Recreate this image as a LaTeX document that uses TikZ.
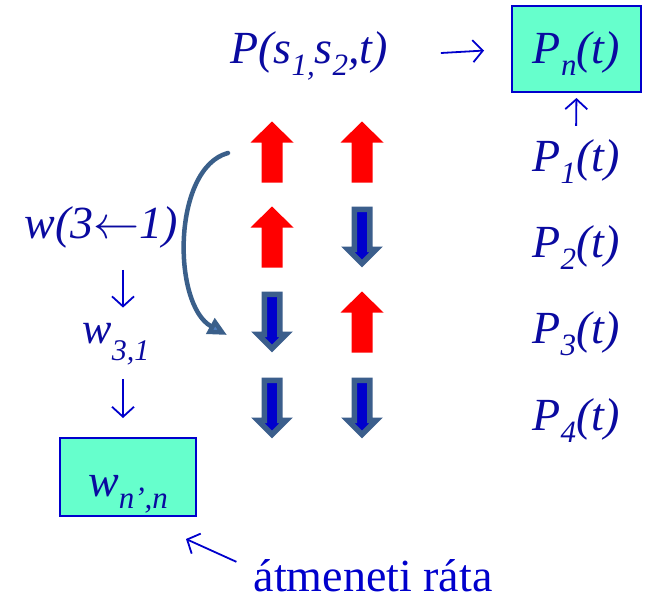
\RequirePackage{fix-cm}
\documentclass[tikz,border=0pt]{standalone}
\usepackage{fontspec}
\setmainfont{Liberation Serif}
\usetikzlibrary{arrows.meta,positioning}
\definecolor{ink}{HTML}{0A0AA0}
\definecolor{bright}{HTML}{0000CC}
\definecolor{boxfill}{HTML}{66FFCC}
\definecolor{spinfill}{HTML}{0000CC}
\definecolor{spinedge}{HTML}{3B5E8C}
\definecolor{flipcol}{HTML}{3A5F8A}
\definecolor{flipfill}{HTML}{4F7FBF}
\newcommand{\idx}[1]{\raisebox{-0.28em}{\fontsize{31}{31}\selectfont #1}}
\newcommand{\spinup}[2]{\fill[upcol] (#1,#2) ++(0,-30.5) -- ++(21.5,21) -- ++(-11,0) -- ++(0,40) -- ++(-21,0) -- ++(0,-40) -- ++(-11,0) -- cycle;}
\newcommand{\spindown}[2]{\filldraw[downcol] (#1,#2) ++(-7.75,-27.75) -- ++(15.5,0) -- ++(0,40) -- ++(6.5,0) -- ++(-14.25,14.25) -- ++(-14.25,-14.25) -- ++(6.5,0) -- cycle;}

\begin{document}
\begin{tikzpicture}[x=1pt,y=-1pt,
  every node/.style={font=\fontsize{46}{50}\selectfont\itshape,text=ink,inner sep=3pt},
  rbox/.style={draw=bright,fill=boxfill,line width=2pt},
  conn/.style={draw=bright,line width=1.8pt,-{Straight Barb[length=10pt,width=22pt]}},
  upcol/.style={fill=red},
  downcol/.style={fill=spinfill,draw=spinedge,line width=5.5pt,line join=miter},
  flip/.style={draw=flipcol,line width=4.5pt,line cap=round,-{Triangle[length=19pt,width=17pt,fill=flipfill]}}]
\useasboundingbox (0,0) rectangle (646,597);
% joint probability and its reduced form
\node[anchor=base] (pjoint) at (309,63) {P(s\idx{1,}s\idx{2},t)};
\node[rbox,minimum width=129pt,minimum height=86pt,text height=30pt,text depth=2pt] (pn) at (576.5,49) {P\idx{n}(t)};
\draw[conn,shorten <=50pt,shorten >=27pt] (pjoint.east) -- (pn.west);
% the four states
\node[anchor=base] (p1) at (576,171) {P\idx{1}(t)};
\node[anchor=base] (p2) at (576,257) {P\idx{2}(t)};
\node[anchor=base] (p3) at (576,343) {P\idx{3}(t)};
\node[anchor=base] (p4) at (576,430) {P\idx{4}(t)};
\draw[conn,shorten <=10pt,shorten >=5pt] (p1.north) -- (pn.south);
\spinup{272}{152}   \spinup{362}{152}
\spinup{272}{237}   \spindown{362}{237}
\spindown{272}{322} \spinup{362}{322}
\spindown{272}{408} \spindown{362}{408}
% transition 1 -> 3
\coordinate (fs) at (228,153);
\coordinate (fe) at (227,335);
\draw[flip] (fs) .. controls (172,168) and (172,305) .. (fe);
% rates
\coordinate (col) at (123,0);
\node[anchor=base] (w31) at (101,238) {w(3$\leftarrow$1)};
\node[anchor=base,font=\fontsize{44}{48}\selectfont\itshape] (w31s) at (116,343) {w\raisebox{-17pt}{\fontsize{30}{30}\selectfont 3,1}};
\node[rbox,minimum width=136pt,minimum height=78pt,text height=40pt,text depth=2pt] (wnn) at (128,477) {w\idx{n’,n}};
\draw[conn,shorten <=19pt,shorten >=12pt] (w31.south -| col) -- (w31s.north -| col);
\draw[conn,shorten <=11pt,shorten >=19pt] (w31s.south -| col) -- (wnn.north -| col);
\node[anchor=base,font=\fontsize{46}{50}\selectfont,text=bright,inner sep=0pt] (rate) at (373,591) {átmeneti ráta};
\draw[conn] ([xshift=-17pt,yshift=-3pt]rate.north west) -- ([xshift=-11pt,yshift=-22pt]wnn.south east);
\end{tikzpicture}
\end{document}
